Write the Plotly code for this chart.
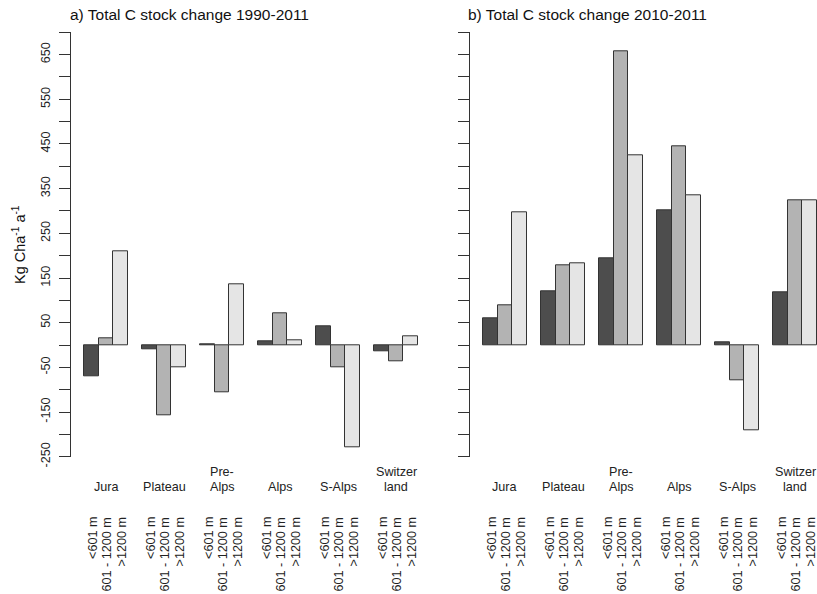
import plotly.graph_objects as go

# Figure size in pixels
W, H = 817, 594

# ---- data -------------------------------------------------------------
regions = ["Jura", "Plateau", "Pre-\nAlps", "Alps", "S-Alps", "Switzer\nland"]
elev_classes = ["&lt;601 m", "601 - 1200 m", "&gt;1200 m"]

# a) Total C stock change 1990-2011 (Kg C ha-1 a-1)
change_1990_2011_low = [-71, -10, 1, 9, 43, -14]
change_1990_2011_mid = [16, -158, -106, 70, -50, -37]
change_1990_2011_high = [210, -50, 137, 11, -228, 19]

# b) Total C stock change 2010-2011 (Kg C ha-1 a-1)
change_2010_2011_low = [60, 121, 195, 301, 6, 119]
change_2010_2011_mid = [88, 178, 657, 445, -79, 324]
change_2010_2011_high = [297, 183, 424, 335, -192, 324]

y_major_ticks = list(range(-250, 651, 100))
y_minor_ticks = list(range(-200, 701, 100))

bar_colors = ["#4d4d4d", "#b3b3b3", "#e5e5e5"]
FONT = "Liberation Sans, Arial, sans-serif"
LINE = "#333333"


def px_x(p):
    return p / W


def px_y(p):
    return 1 - p / H


# group centres in bar units: 3 bars + 1 space per group
n_groups = len(regions)
centres = [2.5 + 4 * i for i in range(n_groups)]

panels = [
    ("x", "y", [change_1990_2011_low, change_1990_2011_mid, change_1990_2011_high]),
    ("x2", "y2", [change_2010_2011_low, change_2010_2011_mid, change_2010_2011_high]),
]

fig = go.Figure()
for xa, ya, series in panels:
    for j, vals in enumerate(series):
        fig.add_trace(go.Bar(
            x=[c + j - 1 for c in centres],
            y=vals,
            width=1,
            xaxis=xa, yaxis=ya,
            marker=dict(color=bar_colors[j], line=dict(color=LINE, width=1)),
            showlegend=False,
            hoverinfo="skip",
        ))

UNIT = 14.5  # pixels per bar
y_dom = [px_y(456.7), px_y(32.3)]

yaxis_common = dict(
    domain=y_dom, range=[-250, 700], autorange=False, automargin=False,
    showgrid=False, zeroline=False,
    showline=True, linecolor=LINE, linewidth=1,
    ticks="outside", ticklen=11, tickcolor=LINE, tickwidth=1,
    tickmode="array", tickvals=y_major_ticks,
    ticktext=[str(v) for v in y_major_ticks],
    minor=dict(tickmode="array", tickvals=y_minor_ticks, ticks="outside",
               ticklen=11, tickcolor=LINE, tickwidth=1, showgrid=False),
    tickangle=-90, tickfont=dict(family=FONT, size=12.6, color="#222"),
)

tick_axis_common = dict(
    showgrid=False, zeroline=False, autorange=False, automargin=False,
    showline=True, linecolor=LINE, linewidth=1,
    ticks="outside", ticklen=10, tickcolor=LINE, tickwidth=1,
    tickvals=centres, showticklabels=False,
)

fig.update_layout(
    width=W, height=H,
    margin=dict(l=0, r=0, t=0, b=0, pad=0, autoexpand=False),
    paper_bgcolor="white", plot_bgcolor="rgba(0,0,0,0)",
    bargap=0,
    xaxis=dict(domain=[px_x(71), px_x(430)],
               range=[2.5 - (106 - 71) / UNIT, 2.5 + (430 - 106) / UNIT],
               visible=False, anchor="y", automargin=False),
    xaxis2=dict(domain=[px_x(470), 1.0],
                range=[2.5 - (505 - 470) / UNIT, 2.5 + (817 - 505) / UNIT],
                visible=False, anchor="y2", automargin=False),
    xaxis3=dict(domain=[px_x(106), px_x(396)], range=[2.5, 22.5],
                anchor="y", **tick_axis_common),
    xaxis4=dict(domain=[px_x(482.7), 1.0],
                range=[2.5 - (505 - 482.7) / UNIT, 2.5 + (817 - 505) / UNIT],
                anchor="y2", **tick_axis_common),
    yaxis=dict(anchor="x", ticklabelstandoff=4, **yaxis_common),
    yaxis2=dict(anchor="x2", **{**yaxis_common, "showticklabels": False}),
)

annotations = []
# panel titles
for text, xpx in [("a) Total C stock change 1990-2011", 68),
                  ("b) Total C stock change 2010-2011", 466)]:
    annotations.append(dict(
        text=text, xref="paper", yref="paper", x=px_x(xpx), y=px_y(14),
        xanchor="left", yanchor="middle", showarrow=False,
        font=dict(family=FONT, size=15.5, color="#111"),
    ))

# y-axis title
annotations.append(dict(
    text="Kg Cha<sup>-1</sup> a<sup>-1</sup>", xref="paper", yref="paper",
    x=px_x(19), y=px_y(245), textangle=-90, showarrow=False,
    xanchor="center", yanchor="middle",
    font=dict(family=FONT, size=14.5, color="#111"),
))

# region names and elevation classes under each panel
for xa in ["x", "x2"]:
    for c, name in zip(centres, regions):
        lines = name.split("\n")
        for k, line in enumerate(reversed(lines)):
            annotations.append(dict(
                text=line, xref=xa, yref="paper", x=c, y=px_y(486.7 - 14.7 * k),
                xanchor="center", yanchor="middle", showarrow=False,
                font=dict(family=FONT, size=12.6, color="#222"),
            ))
        for j, lab in enumerate(elev_classes):
            annotations.append(dict(
                text=lab, xref=xa, yref="paper", x=c + j - 1 + 0.1, y=px_y(515),
                xanchor="center", yanchor="top", textangle=-90, showarrow=False,
                font=dict(family=FONT, size=12.6, color="#222"),
            ))

fig.update_layout(annotations=annotations)
fig.write_html("out.html")
